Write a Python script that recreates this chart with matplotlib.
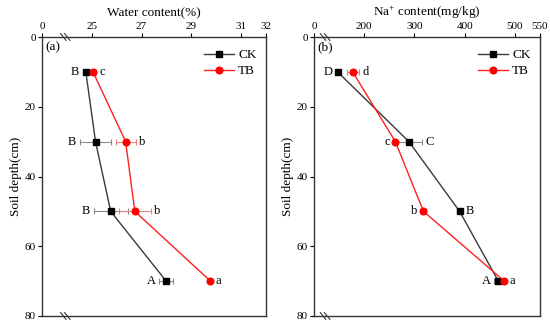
import matplotlib
matplotlib.use("Agg")
import matplotlib.pyplot as plt

plt.rcParams['font.family'] = ['Liberation Serif', 'DejaVu Serif']
plt.rcParams['mathtext.fontset'] = 'custom'
plt.rcParams['mathtext.rm'] = 'Liberation Serif'

depth = [10, 30, 50, 70]

# Panel (a) water content (%)
wc_ck = [24.76, 25.15, 25.76, 27.99]
wc_ck_err = [0.12, 0.64, 0.68, 0.28]
wc_tb = [25.05, 26.36, 26.73, 29.77]
wc_tb_err = [0.12, 0.40, 0.64, 0.05]
wc_ck_lab = ['B', 'B', 'B', 'A']
wc_tb_lab = ['c', 'b', 'b', 'a']
wc_ck_side = ['l', 'l', 'l', 'l']
wc_tb_side = ['r', 'r', 'r', 'r']
wc_ticks = [23, 25, 27, 29, 31, 32]
wc_ticklabels = ['0', '25', '27', '29', '31', '32']

# Panel (b) Na+ content (mg/kg)
na_ck = [147, 289, 390, 467]
na_ck_err = [3, 26, 5, 8]
na_tb = [177, 262, 318, 479]
na_tb_err = [12, 4, 5, 4]
na_ck_lab = ['D', 'C', 'B', 'A']
na_tb_lab = ['d', 'c', 'b', 'a']
na_ck_side = ['l', 'r', 'r', 'l']
na_tb_side = ['r', 'l', 'l', 'r']
na_ticks = [100, 200, 300, 400, 500, 550]
na_ticklabels = ['0', '200', '300', '400', '500', '550']

fig = plt.figure(figsize=(5.5, 3.34), dpi=100)
axa = fig.add_axes([0.0764, 0.0539, 0.4072, 0.8353])
axb = fig.add_axes([0.5709, 0.0539, 0.4109, 0.8353])

def draw(ax, ck, ckerr, tb, tberr, cklab, tblab, ckside, tbside,
         ticks, ticklabels, xlabel, panel, brk):
    ax.errorbar(ck, depth, xerr=ckerr, fmt='none', ecolor='#8a8a8a',
                elinewidth=0.8, capsize=2, capthick=0.8, zorder=2)
    ax.errorbar(tb, depth, xerr=tberr, fmt='none', ecolor='#f08080',
                elinewidth=0.8, capsize=2, capthick=0.8, zorder=2)
    ax.plot(ck, depth, '-s', color='#3a3a3a', mfc='black', mec='black',
            ms=4, lw=1.0, label='CK', zorder=3)
    ax.plot(tb, depth, '-o', color='#ff2020', mfc='#ff0000', mec='#ff0000',
            ms=4.8, lw=1.0, label='TB', zorder=3)
    for vals, errs, labs, sides in ((ck, ckerr, cklab, ckside),
                                    (tb, tberr, tblab, tbside)):
        for v, e, d, l, s in zip(vals, errs, depth, labs, sides):
            if s == 'l':
                ax.annotate(l, xy=(v - e, d), xytext=(-2.5, 0),
                            textcoords='offset points', ha='right',
                            va='center', fontsize=9)
            else:
                ax.annotate(l, xy=(v + e, d), xytext=(2.5, 0),
                            textcoords='offset points', ha='left',
                            va='center', fontsize=9)
    ax.set_xlim(ticks[0], ticks[-1])
    ax.set_ylim(80, 0)
    ax.xaxis.tick_top()
    ax.xaxis.set_label_position('top')
    ax.set_xticks(ticks)
    ax.set_xticklabels(ticklabels)
    ax.set_yticks([0, 20, 40, 60, 80])
    ax.tick_params(axis='both', direction='out', length=3, width=0.8,
                   labelsize=8, pad=1.5)
    ax.set_xlabel(xlabel, fontsize=9.5, labelpad=4)
    ax.set_ylabel('Soil depth(cm)', fontsize=9.5, labelpad=2)
    for sp in ax.spines.values():
        sp.set_linewidth(1.0)
        sp.set_color('#333333')
    ax.text(0.015, 0.985, panel, transform=ax.transAxes, ha='left',
            va='top', fontsize=9.5)
    ax.legend(loc='upper right', frameon=False, fontsize=9.5,
              handlelength=2.3, handletextpad=0.3, labelspacing=0.3,
              borderaxespad=0.3, bbox_to_anchor=(1.0, 0.99))
    for yb in (1.0, 0.0):
        for dx in (0.0, 0.018):
            ax.plot([brk + dx - 0.012, brk + dx + 0.012],
                    [yb + 0.012, yb - 0.012], transform=ax.transAxes,
                    color='#333333', lw=0.8, clip_on=False, zorder=5)

draw(axa, wc_ck, wc_ck_err, wc_tb, wc_tb_err, wc_ck_lab, wc_tb_lab,
     wc_ck_side, wc_tb_side, wc_ticks, wc_ticklabels,
     'Water content(%)', '(a)', 0.095)
draw(axb, na_ck, na_ck_err, na_tb, na_tb_err, na_ck_lab, na_tb_lab,
     na_ck_side, na_tb_side, na_ticks, na_ticklabels,
     'Na$^{+}$ content(mg/kg)', '(b)', 0.04)

fig.savefig('out.png', dpi=100)
